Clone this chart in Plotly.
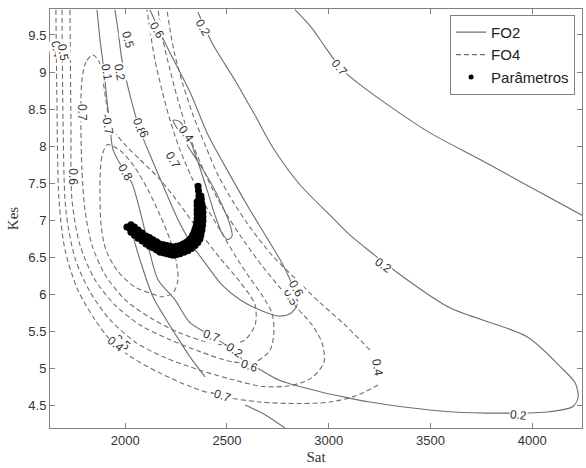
import plotly.graph_objects as go

# ---------------- data ----------------
# FO2 contour lines (solid)
fo2_a_sat = [2834, 2918, 2982, 3060, 3154, 3326, 3498, 3744, 3990, 4245]
fo2_a_kes = [9.84, 9.59, 9.34, 9.05, 8.83, 8.49, 8.18, 7.82, 7.45, 7.07]

fo2_b_sat = [2357, 2431, 2539, 2637, 2726, 2859, 3006, 3105, 3203, 3350, 3596, 3975, 4137, 4211, 4226,
             4201, 4088, 3842, 3596, 3350, 3203, 3090, 2957, 2761, 2648, 2589, 2530, 2431, 2318, 2244,
             2161, 2121, 2087, 2033, 1999, 1940, 1925, 1910, 1895, 1876, 1861]
fo2_b_kes = [9.81, 9.37, 8.89, 8.42, 7.98, 7.48, 7.07, 6.80, 6.58, 6.27, 5.82, 5.43, 5.03, 4.81, 4.62,
             4.49, 4.42, 4.40, 4.42, 4.49, 4.55, 4.61, 4.69, 4.84, 5.01, 5.09, 5.25, 5.43, 5.62, 5.93,
             6.20, 6.56, 6.97, 7.50, 7.65, 7.95, 8.29, 8.62, 9.03, 9.43, 9.84]

fo2_c_sat = [2121, 2205, 2318, 2407, 2515, 2613, 2702, 2775, 2825, 2844, 2810, 2751, 2662, 2564, 2475,
             2402, 2328, 2259, 2195, 2131, 2072, 2023, 1984, 1964, 1949]
fo2_c_kes = [9.84, 9.34, 8.73, 8.15, 7.61, 7.14, 6.74, 6.40, 6.09, 5.86, 5.74, 5.71, 5.79, 5.93, 6.13,
             6.39, 6.67, 7.01, 7.41, 7.82, 8.22, 8.69, 9.16, 9.57, 9.84]

fo2_d_sat = [2235, 2269, 2308, 2353, 2402, 2441, 2475, 2505, 2525, 2515, 2475, 2426, 2367, 2303, 2259, 2235]
fo2_d_kes = [8.35, 8.33, 8.15, 7.82, 7.41, 7.07, 6.83, 6.74, 6.79, 6.94, 7.21, 7.48, 7.75, 8.02, 8.22, 8.35]

fo2_e_sat = [2033, 2072, 2136, 2195, 2254, 2318, 2392]
fo2_e_kes = [6.83, 6.47, 5.97, 5.69, 5.43, 5.16, 4.89]

fo2_f_sat = [2589, 2687, 2785]
fo2_f_kes = [4.51, 4.38, 4.20]

# FO4 contour lines (dashed)
fo4_a_sat = [1659, 1664, 1674, 1704, 1767, 1851, 1935, 2033, 2171, 2318, 2466, 2662, 2859, 3006, 3129, 3243,
             None, 3203, 3080, 2957, 2834, 2721, 2623, 2539, 2456, 2392, 2333, 2284, 2244, 2220, 2205]
fo4_a_kes = [9.84, 8.62, 7.28, 6.60, 6.06, 5.66, 5.36, 5.15, 4.94, 4.76, 4.63, 4.55, 4.53, 4.55, 4.63, 4.78,
             None, 5.25, 5.59, 5.89, 6.22, 6.53, 6.87, 7.21, 7.61, 8.02, 8.42, 8.83, 9.23, 9.57, 9.84]

fo4_b_sat = [1689, 1694, 1708, 1753, 1826, 1925, 2048, 2195, 2367, 2530, 2677, 2810, 2918, 2977, 2967,
             2918, 2844, 2761, 2672, 2589, 2505, 2431, 2367, 2308, 2259, 2220, 2185, 2161]
fo4_b_kes = [9.84, 8.35, 7.14, 6.49, 6.04, 5.66, 5.36, 5.15, 4.98, 4.85, 4.76, 4.77, 4.88, 5.09, 5.35,
             5.59, 5.82, 6.09, 6.39, 6.70, 7.05, 7.41, 7.79, 8.19, 8.62, 9.03, 9.43, 9.84]

fo4_c_sat = [1728, 1733, 1738, 1777, 1851, 1949, 2072, 2220, 2367, 2530, 2638, 2712, 2731, 2721, 2672,
             2613, 2539, 2466, 2392, 2328, 2269, 2220, 2180, 2146, 2121, 2107]
fo4_c_kes = [9.84, 8.35, 7.28, 6.67, 6.20, 5.86, 5.59, 5.39, 5.23, 5.09, 5.09, 5.25, 5.52, 5.75, 5.99,
             6.22, 6.53, 6.87, 7.21, 7.57, 7.95, 8.35, 8.76, 9.16, 9.57, 9.84]

fo4_d_sat = [1841, 1807, 1787, 1782, 1782, 1787, 1802, 1836, 1900, 1999, 2121, 2269, 2416, 2515, 2589,
             2638, 2638, 2564, 2466, 2367, 2269, 2171, 2072, 1999, 1949, 1920, 1905, 1890, 1871, 1841]
fo4_d_kes = [9.23, 9.14, 8.89, 8.62, 8.22, 7.68, 7.14, 6.67, 6.27, 5.93, 5.69, 5.48, 5.35, 5.32, 5.39,
             5.59, 5.86, 6.17, 6.49, 6.84, 7.21, 7.55, 7.82, 8.02, 8.19, 8.38, 8.62, 8.89, 9.14, 9.23]

fo4_e_sat = [1910, 1885, 1876, 1876, 1881, 1905, 1964, 2048, 2121, 2180, 2235, 2259, 2249, 2220, 2171,
             2112, 2048, 1984, 1940, 1910]
fo4_e_kes = [8.02, 7.86, 7.59, 7.28, 6.94, 6.60, 6.31, 6.10, 6.02, 5.97, 6.02, 6.20, 6.47, 6.74, 7.07,
             7.41, 7.71, 7.92, 8.00, 8.02]

# Parameter estimates (crescent-shaped cloud)
par_sat = [2023, 2040, 2058, 2078, 2097, 2114, 2131, 2151, 2171, 2188, 2205, 2220, 2235, 2252, 2269, 2286,
           2303, 2318, 2333, 2343, 2353, 2358, 2362, 2365, 2367, 2367, 2367, 2365, 2362, 2362, 2362, 2360, 2358,
           2028, 2045, 2063, 2083, 2102, 2119, 2136, 2154, 2171, 2188, 2205, 2220, 2235, 2252, 2269, 2284,
           2298, 2311, 2323, 2331, 2338, 2343, 2348, 2351, 2353, 2353, 2353, 2353, 2353,
           2028, 2045, 2063, 2083, 2102, 2119, 2136, 2154, 2171, 2188, 2205, 2220, 2235, 2252, 2269, 2289,
           2308, 2326, 2343, 2357, 2367, 2372, 2377, 2380, 2382, 2382, 2382, 2380, 2377, 2374, 2372, 2008]
par_kes = [6.89, 6.85, 6.82, 6.78, 6.74, 6.71, 6.68, 6.66, 6.63, 6.61, 6.60, 6.59, 6.59, 6.59, 6.60, 6.62,
           6.64, 6.67, 6.71, 6.75, 6.79, 6.84, 6.90, 6.95, 7.01, 7.06, 7.11, 7.17, 7.22, 7.28, 7.33, 7.40, 7.46,
           6.94, 6.91, 6.87, 6.83, 6.79, 6.77, 6.74, 6.71, 6.68, 6.67, 6.66, 6.65, 6.64, 6.65, 6.66, 6.68,
           6.70, 6.73, 6.76, 6.80, 6.84, 6.88, 6.92, 6.97, 7.03, 7.09, 7.14, 7.20, 7.25,
           6.84, 6.80, 6.76, 6.72, 6.68, 6.65, 6.63, 6.60, 6.57, 6.56, 6.55, 6.54, 6.53, 6.54, 6.55, 6.57,
           6.59, 6.62, 6.66, 6.70, 6.75, 6.81, 6.87, 6.93, 6.99, 7.05, 7.11, 7.17, 7.22, 7.28, 7.33, 6.91]

# contour labels
lab_text = ["0.7", "0.2", "0.2", "0.2", "0.6", "0.5", "0.1", "0.2", "-0.7", "0.4", "0.5", "0.7", "0.6",
            "0.8", "0.8", "6", "0.4", "0.7", "0.5", "0.6", "0.7", "0.2", "0.6", "0.5", "0.4", "-0.7", "0.4"]
lab_sat = [3055, 2382, 3267, 3931, 2156, 2013, 1910, 1974, 1915, 1664, 1694, 1787, 1743,
           1999, 2068, 2090, 2300, 2235, 2815, 2842, 2426, 2535, 2613, 1984, 1952, 2466, 3238]
lab_kes = [9.06, 9.59, 6.40, 4.38, 9.57, 9.43, 8.99, 8.99, 8.29, 9.30, 9.27, 8.45, 7.58,
           7.65, 8.27, 8.16, 8.17, 7.82, 5.97, 6.08, 5.44, 5.25, 5.04, 5.36, 5.33, 4.64, 5.02]
lab_angle = [50, 60, 35, 5, 60, 75, 80, 80, 80, 80, 80, 90, 90,
             60, 70, 70, 55, 60, 60, 60, 20, 35, 20, 40, 40, 20, 80]

x_ticks = [2000, 2500, 3000, 3500, 4000]
y_ticks = [4.5, 5, 5.5, 6, 6.5, 7, 7.5, 8, 8.5, 9, 9.5]

# ---------------- figure ----------------
LINE = "#6f6f6f"
fig = go.Figure()

solid = [(fo2_a_sat, fo2_a_kes), (fo2_b_sat, fo2_b_kes), (fo2_c_sat, fo2_c_kes),
         (fo2_d_sat, fo2_d_kes), (fo2_e_sat, fo2_e_kes), (fo2_f_sat, fo2_f_kes)]
dashed = [(fo4_a_sat, fo4_a_kes), (fo4_b_sat, fo4_b_kes), (fo4_c_sat, fo4_c_kes),
          (fo4_d_sat, fo4_d_kes), (fo4_e_sat, fo4_e_kes)]

for i, (xs, ys) in enumerate(solid):
    fig.add_trace(go.Scatter(x=xs, y=ys, mode="lines", name="FO2", legendgroup="FO2",
                             showlegend=(i == 0), line=dict(color=LINE, width=1.1, shape="spline", smoothing=0.8)))
for i, (xs, ys) in enumerate(dashed):
    fig.add_trace(go.Scatter(x=xs, y=ys, mode="lines", name="FO4", legendgroup="FO4",
                             showlegend=(i == 0), line=dict(color=LINE, width=1.1, dash="5px,3px",
                                                            shape="spline", smoothing=0.8)))

fig.add_trace(go.Scatter(x=par_sat, y=par_kes, mode="markers", name="Parâmetros", showlegend=False,
                         legendgroup="par", marker=dict(color="black", size=7, symbol="circle")))
# legend entry for the parameter cloud (small dot as in the original)
fig.add_trace(go.Scatter(x=[None], y=[None], mode="markers", name="Parâmetros", legendgroup="par",
                         marker=dict(color="black", size=5, symbol="circle")))

for t, xs, ys, a in zip(lab_text, lab_sat, lab_kes, lab_angle):
    fig.add_annotation(x=xs, y=ys, text=t, showarrow=False, textangle=a,
                       font=dict(family="Liberation Sans, Arial", size=12, color="#333333"),
                       bgcolor="white", borderpad=0)

axis_common = dict(showline=True, linecolor="#808080", linewidth=1, mirror="ticks", ticks="inside",
                   ticklen=5, tickcolor="#808080", showgrid=False, zeroline=False,
                   tickfont=dict(family="Liberation Sans, Arial", size=13, color="#333333"))

fig.update_xaxes(range=[1630, 4245], tickvals=x_ticks, ticktext=[str(v) for v in x_ticks],
                 title=dict(text="Sat", font=dict(family="Liberation Serif, Times New Roman", size=15, color="#333333"),
                            standoff=4), **axis_common)
fig.update_yaxes(range=[4.2, 9.85], tickvals=y_ticks, ticktext=[f"{v:g}" for v in y_ticks],
                 title=dict(text="Kes", font=dict(family="Liberation Serif, Times New Roman", size=15, color="#333333"),
                            standoff=6), **axis_common)

fig.update_layout(
    width=586, height=468,
    margin=dict(l=50, r=4, t=9, b=40),
    plot_bgcolor="white", paper_bgcolor="white",
    legend=dict(x=0.987, y=0.986, xanchor="right", yanchor="top", bgcolor="white",
                bordercolor="#808080", borderwidth=1, tracegroupgap=0,
                font=dict(family="Liberation Sans, Arial", size=15, color="#222222")),
    showlegend=True,
)

fig.write_html("out.html")
